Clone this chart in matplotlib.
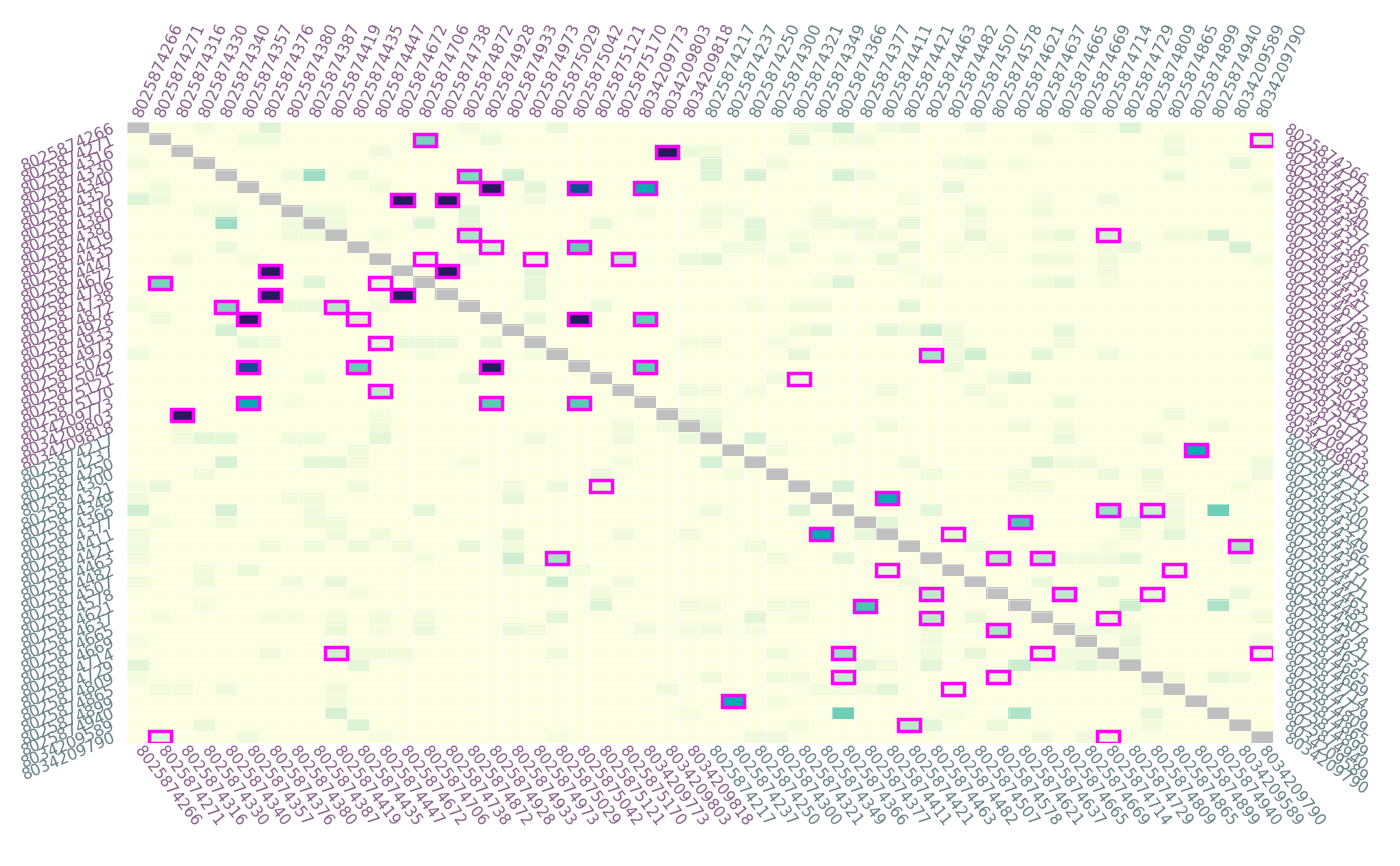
import numpy as np
import matplotlib
matplotlib.use("Agg")
import matplotlib.pyplot as plt
from matplotlib.colors import LinearSegmentedColormap
from matplotlib.patches import Rectangle

# ids, first group purple, second group grey
ids_a = ["8025874266", "8025874271", "8025874316", "8025874330", "8025874340",
         "8025874357", "8025874376", "8025874380", "8025874387", "8025874419",
         "8025874435", "8025874447", "8025874672", "8025874706", "8025874738",
         "8025874872", "8025874928", "8025874933", "8025874973", "8025875029",
         "8025875042", "8025875121", "8025875170", "8034209773", "8034209803",
         "8034209818"]
ids_b = ["8025874217", "8025874237", "8025874250", "8025874300", "8025874321",
         "8025874349", "8025874366", "8025874377", "8025874411", "8025874421",
         "8025874463", "8025874482", "8025874507", "8025874578", "8025874621",
         "8025874637", "8025874665", "8025874669", "8025874714", "8025874729",
         "8025874809", "8025874865", "8025874899", "8025874940", "8034209589",
         "8034209790"]

# highlighted cells (row, col, value)
boxed = [
    (1, 13, .45), (2, 24, 1.0), (4, 15, .42), (5, 16, 1.0), (5, 20, .82), (5, 23, .65),
    (6, 12, 1.0), (6, 14, 1.0), (9, 15, .3), (10, 16, .15), (10, 20, .5),
    (11, 13, .1), (11, 18, .1), (11, 22, .25), (12, 6, 1.0), (12, 14, 1.0),
    (13, 1, .45), (13, 11, .08), (14, 6, 1.0), (14, 12, 1.0), (15, 4, .42), (15, 9, .28),
    (16, 5, 1.0), (16, 10, .15), (16, 20, 1.0), (16, 23, .5), (18, 11, .08),
    (20, 5, .82), (20, 10, .5), (20, 16, 1.0), (20, 23, .5), (22, 11, .25),
    (23, 5, .65), (23, 16, .52), (23, 20, .52), (24, 2, 1.0),
    (1, 51, .12), (9, 44, .15), (19, 36, .32), (21, 30, .06),
    (30, 21, .07), (36, 19, .32), (44, 9, .18), (51, 1, .1),
    (27, 48, .65), (31, 34, .65), (32, 44, .35), (32, 46, .2), (33, 40, .55),
    (34, 31, .65), (34, 37, .08), (35, 50, .3), (36, 39, .25), (36, 41, .25),
    (37, 34, .08), (37, 47, .07), (39, 36, .25), (39, 42, .25), (39, 46, .08),
    (40, 33, .55), (41, 36, .25), (41, 44, .08), (42, 39, .3), (44, 32, .35),
    (44, 41, .1), (44, 51, .07), (46, 32, .22), (46, 39, .07), (47, 37, .06),
    (48, 27, .65), (50, 35, .25), (51, 44, .06),
]

# other shaded cells (row, col, value)
shaded = [
    (0, 3, .03), (0, 6, .12), (0, 15, .03), (0, 19, .07), (1, 5, .05), (1, 6, .05), (1, 16, .06),
    (2, 11, .04), (2, 25, .06), (3, 0, .03), (4, 7, .04), (4, 8, .35), (4, 10, .05), (4, 17, .18),
    (5, 1, .04), (5, 11, .03), (5, 18, .1), (6, 0, .12), (6, 1, .05), (6, 18, .04),
    (7, 3, .03), (7, 4, .05), (7, 8, .05), (7, 9, .03), (7, 15, .1), (7, 23, .02),
    (8, 4, .35), (8, 7, .05), (8, 9, .05), (8, 13, .12), (8, 15, .1), (8, 21, .07),
    (9, 7, .04), (9, 8, .04), (9, 11, .02), (10, 4, .06),
    (11, 2, .03), (11, 5, .02), (11, 15, .05), (11, 25, .06), (12, 18, .1),
    (13, 8, .12), (13, 18, .08), (14, 18, .1),
    (15, 0, .02), (15, 7, .07), (15, 8, .07), (15, 11, .03), (15, 21, .06),
    (16, 1, .04), (16, 18, .08), (17, 4, .15),
    (18, 5, .08), (18, 6, .04), (18, 12, .07), (18, 13, .07), (18, 14, .07), (18, 16, .08), (18, 25, .02),
    (19, 0, .05), (19, 13, .02), (19, 18, .02), (21, 8, .05), (21, 15, .06), (22, 25, .05),
    (23, 7, .02), (24, 11, .02), (24, 25, .04), (25, 2, .03), (25, 11, .05), (25, 22, .04), (25, 24, .04),
    (0, 30, .03), (0, 31, .05), (0, 32, .2), (0, 34, .04), (0, 35, .07), (0, 38, .04), (0, 43, .02), (0, 45, .12),
    (1, 30, .1), (1, 32, .03), (1, 33, .03), (1, 41, .03), (1, 47, .04), (2, 26, .04), (2, 47, .05),
    (3, 26, .12), (3, 29, .04), (3, 37, .04), (3, 38, .06), (3, 40, .02), (3, 50, .08),
    (4, 26, .12), (4, 28, .15), (4, 32, .15), (4, 33, .04), (4, 47, .06), (5, 37, .08), (5, 51, .03),
    (6, 35, .02), (6, 41, .02), (6, 44, .04), (7, 26, .04), (7, 27, .02), (7, 31, .03), (7, 38, .06), (7, 41, .04),
    (8, 26, .04), (8, 28, .1), (8, 31, .03), (8, 32, .06), (8, 33, .06), (8, 35, .08), (8, 38, .03),
    (9, 28, .1), (9, 30, .02), (9, 33, .03), (9, 34, .03), (9, 38, .08), (9, 41, .03), (9, 42, .07),
    (9, 47, .03), (9, 48, .03), (9, 49, .15),
    (10, 27, .05), (10, 28, .03), (10, 30, .06), (10, 35, .08), (10, 37, .02), (10, 39, .02),
    (10, 44, .04), (10, 45, .08), (10, 50, .15),
    (11, 26, .1), (11, 29, .02), (11, 32, .02), (11, 34, .07), (11, 41, .04), (11, 42, .03), (11, 44, .04), (11, 51, .02),
    (12, 35, .02), (12, 44, .03), (13, 31, .02), (13, 32, .12), (13, 36, .03), (13, 41, .04), (13, 42, .08), (13, 44, .02),
    (15, 28, .02), (15, 30, .03), (15, 31, .03), (15, 35, .1),
    (17, 30, .03), (17, 31, .08), (17, 34, .1), (17, 35, .05), (17, 36, .18), (17, 37, .03), (17, 42, .08),
    (18, 26, .03), (18, 29, .02), (18, 37, .04), (18, 42, .04),
    (19, 30, .08), (19, 37, .04), (19, 38, .18), (19, 41, .1), (19, 44, .05), (19, 51, .02),
    (20, 37, .07), (21, 29, .05), (21, 39, .04), (21, 40, .15),
    (22, 26, .03), (22, 28, .02), (22, 34, .04), (22, 38, .05), (23, 39, .02), (23, 42, .06),
    (24, 26, .04), (24, 47, .05), (25, 26, .08), (25, 34, .04), (25, 40, .04), (25, 42, .03), (25, 49, .03),
    (26, 2, .03), (26, 3, .1), (26, 4, .1), (26, 7, .05), (26, 8, .05), (26, 11, .1), (26, 18, .04), (26, 22, .04), (26, 25, .07),
    (27, 10, .05), (28, 4, .15), (28, 8, .1), (28, 9, .1), (28, 10, .03), (28, 15, .02), (28, 22, .02),
    (29, 3, .04), (29, 21, .06), (30, 0, .02), (30, 1, .08), (30, 10, .05), (30, 17, .03), (30, 19, .06),
    (31, 0, .04), (31, 7, .03), (31, 8, .03), (31, 17, .08), (32, 0, .18), (32, 4, .15), (32, 8, .04), (32, 13, .1),
    (33, 1, .02), (33, 4, .04), (33, 8, .04), (33, 9, .04),
    (34, 0, .03), (34, 9, .05), (34, 11, .05), (34, 17, .1), (34, 22, .04), (34, 25, .03),
    (35, 0, .05), (35, 6, .03), (35, 8, .05), (35, 10, .06), (35, 12, .03), (35, 15, .08), (35, 17, .04),
    (36, 0, .03), (36, 13, .02), (36, 17, .18), (37, 3, .03), (37, 5, .07), (37, 17, .03), (37, 18, .05), (37, 20, .05),
    (38, 0, .03), (38, 3, .05), (38, 7, .04), (38, 9, .08), (38, 19, .18), (38, 22, .04),
    (39, 10, .02), (39, 21, .04), (40, 3, .02), (40, 21, .12), (40, 25, .03),
    (41, 1, .02), (41, 6, .02), (41, 7, .02), (41, 9, .03), (41, 11, .03), (41, 13, .03), (41, 19, .1),
    (42, 9, .07), (42, 11, .02), (42, 13, .06), (42, 17, .07), (42, 18, .03), (42, 23, .04), (42, 25, .02),
    (43, 0, .02), (44, 6, .04), (44, 10, .04), (44, 11, .04), (44, 12, .03), (44, 19, .05),
    (45, 0, .1), (45, 10, .1), (46, 0, .02), (47, 1, .03), (47, 2, .03), (47, 4, .05), (47, 9, .04), (47, 24, .04),
    (48, 9, .03), (49, 9, .15), (49, 25, .02), (50, 3, .07), (50, 10, .13),
    (51, 5, .04), (51, 11, .02), (51, 19, .02),
    (26, 28, .15), (26, 32, .05), (26, 42, .06), (26, 46, .04), (27, 29, .03),
    (28, 26, .15), (28, 35, .05), (28, 41, .12), (28, 42, .04), (28, 43, .04), (28, 51, .05),
    (29, 27, .02), (29, 36, .05), (29, 40, .04), (29, 44, .06), (29, 46, .07), (29, 51, .04),
    (30, 32, .15), (30, 40, .03), (30, 41, .03), (30, 46, .03), (30, 50, .02), (31, 47, .03),
    (32, 26, .05), (32, 30, .12), (32, 36, .1), (32, 47, .04), (32, 49, .48),
    (33, 34, .1), (33, 45, .12), (33, 47, .05), (34, 33, .08), (34, 45, .03), (34, 47, .1),
    (35, 28, .04), (35, 38, .05), (35, 44, .02),
    (36, 29, .03), (36, 32, .1), (36, 42, .04), (36, 43, .04), (36, 44, .04), (36, 45, .1), (36, 50, .08),
    (38, 35, .05), (38, 41, .07), (38, 44, .1), (39, 50, .06),
    (40, 26, .02), (40, 29, .03), (40, 30, .03), (40, 45, .18), (40, 49, .3),
    (41, 28, .1), (41, 30, .02), (41, 38, .07), (41, 51, .03),
    (42, 26, .04), (42, 28, .02), (42, 36, .04), (42, 43, .04), (42, 44, .04), (42, 45, .04),
    (43, 36, .04), (43, 45, .08), (43, 51, .03),
    (44, 29, .05), (44, 36, .04), (44, 38, .08), (44, 42, .04), (44, 43, .04), (44, 45, .05),
    (45, 33, .1), (45, 34, .03), (45, 36, .1), (45, 40, .2), (45, 41, .04), (45, 42, .04), (45, 43, .1), (45, 44, .04),
    (46, 26, .04), (46, 29, .05), (46, 30, .03), (46, 47, .03), (46, 49, .08), (46, 50, .04),
    (47, 31, .03), (47, 32, .03), (47, 33, .04), (47, 34, .1), (47, 46, .03), (48, 29, .02),
    (49, 32, .48), (49, 37, .02), (49, 40, .3), (49, 46, .08),
    (50, 30, .02), (50, 36, .1), (50, 39, .06), (50, 46, .03),
    (51, 28, .04), (51, 29, .04), (51, 41, .04), (51, 43, .04),
]

purple = "#855a87"
slate = "#5f7c83"

ids = ids_a + ids_b
n = len(ids)
mat = np.zeros((n, n))
for r, c, v in shaded + boxed:
    mat[r, c] = v
mat[np.arange(n), np.arange(n)] = np.nan

cmap = LinearSegmentedColormap.from_list("heat", [
    (0.0, "#fbfee0"), (0.1, "#e4f6d8"), (0.25, "#c0e9cc"), (0.4, "#8ed8bf"),
    (0.52, "#5ecab3"), (0.65, "#05adb2"), (0.82, "#0a4f90"), (1.0, "#241a5b")])
cmap.set_bad("#c0c0c0")

fig = plt.figure(figsize=(14, 8.66), dpi=100)
ax = fig.add_axes([127 / 1400, 1 - 743 / 866, 1146 / 1400, 621 / 866])
ax.imshow(mat, cmap=cmap, vmin=0, vmax=1, aspect="auto", interpolation="nearest",
          extent=(0, n, n, 0))

# thin white cell borders
ax.set_xticks(np.arange(n + 1), minor=True)
ax.set_yticks(np.arange(n + 1), minor=True)
ax.grid(which="minor", color="white", linewidth=0.6, alpha=0.5)
ax.tick_params(which="minor", length=0)

for r, c, v in boxed:
    ax.add_patch(Rectangle((c, r), 1, 1, fill=False, edgecolor="#ff00ff", linewidth=2.5, zorder=5))

for s in ax.spines.values():
    s.set_visible(False)

ax.set_xticks(np.arange(n) + 0.5)
ax.set_xticklabels(ids)
ax.set_yticks(np.arange(n) + 0.5)
ax.set_yticklabels(ids)
ax.tick_params(axis="x", which="major", length=0, top=False, bottom=False,
               labeltop=True, labelbottom=True, pad=4)
ax.tick_params(axis="y", which="major", length=0, left=False, right=False,
               labelleft=True, labelright=True, pad=9)

for i, t in enumerate(ax.xaxis.get_major_ticks()):
    col = purple if i < len(ids_a) else slate
    t.label1.set(rotation=-52, ha="left", va="center", rotation_mode="anchor", color=col, fontsize=11)
    t.label2.set(rotation=66, ha="left", va="center", rotation_mode="anchor", color=col, fontsize=11.5)
for i, t in enumerate(ax.yaxis.get_major_ticks()):
    col = purple if i < len(ids_a) else slate
    t.label1.set(rotation=23, ha="right", va="center", rotation_mode="anchor", color=col, fontsize=11.3)
    t.label2.set(rotation=-34, ha="left", va="center", rotation_mode="anchor", color=col, fontsize=11)

fig.savefig("out.png", dpi=100, facecolor="white")
